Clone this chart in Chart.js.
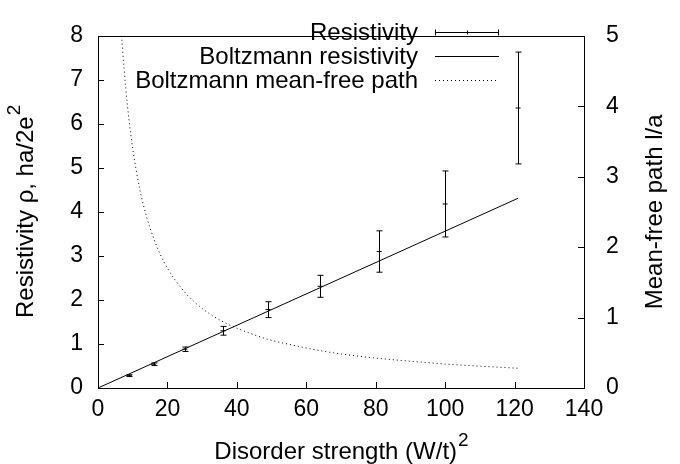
<!DOCTYPE html>
<html>
<head>
<meta charset="utf-8">
<script src="https://cdn.jsdelivr.net/npm/chart.js@4.4.1/dist/chart.umd.min.js"></script>
<style>
  html, body { margin: 0; padding: 0; background: #fff; }
  canvas { display: block; }
</style>
</head>
<body>
<canvas id="chart" width="680" height="464"></canvas>
<script>
// disorder strength (W/t)^2 of the simulated points
const disorder = [9, 16, 25, 36, 49, 64, 81, 100, 121];
const resistivity = [0.28, 0.54, 0.88, 1.30, 1.78, 2.31, 3.10, 4.18, 6.36];
const resistivityErr = [0.02, 0.03, 0.05, 0.10, 0.18, 0.25, 0.47, 0.75, 1.27];

// Boltzmann resistivity (straight line)
const boltzX = [0, 121];
const boltzRho = [0, 4.31];

// Boltzmann mean-free path (right axis)
const mfpX = [6.5, 7, 8, 9, 10, 12, 14, 16, 18, 20, 25, 30, 36, 40, 49, 56, 64, 72, 81, 90, 100, 110, 121];
const mfpL = [5.23, 4.86, 4.25, 3.78, 3.40, 2.83, 2.43, 2.13, 1.89, 1.70, 1.36, 1.13, 0.94, 0.85, 0.69, 0.61, 0.53, 0.47, 0.42, 0.38, 0.34, 0.31, 0.28];

const legendLabels = ["Resistivity", "Boltzmann resistivity", "Boltzmann mean-free path"];

const FONT = "'Liberation Sans', Arial, sans-serif";
const FS = 24;   // legend / titles
const TFS = 23;  // tick labels
const DOTS = [1, 3];

function pts(xs, ys) {
  return xs.map((x, i) => ({ x: x, y: ys[i] }));
}

// text with an optional superscript, centred on (0,0) of current transform
function drawTitle(ctx, text, sup) {
  ctx.font = FS + "px " + FONT;
  const w1 = ctx.measureText(text).width;
  ctx.font = Math.round(FS * 0.8) + "px " + FONT;
  const w2 = sup ? ctx.measureText(sup).width : 0;
  const start = -(w1 + w2) / 2;
  ctx.textAlign = "left";
  ctx.textBaseline = "middle";
  ctx.font = FS + "px " + FONT;
  ctx.fillText(text, start, 0);
  if (sup) {
    ctx.font = Math.round(FS * 0.8) + "px " + FONT;
    ctx.fillText(sup, start + w1 + 1, -11);
  }
}

// error bars, frame, inward ticks, legend, axis titles
const gnuplotLook = {
  id: "gnuplotLook",
  afterDatasetsDraw(chart) {
    const ctx = chart.ctx;
    const xs = chart.scales.x, ys = chart.scales.y, ys2 = chart.scales.y2;
    const a = chart.chartArea;
    ctx.save();
    ctx.strokeStyle = "#000";
    ctx.fillStyle = "#000";
    ctx.lineWidth = 1;

    // error bars
    disorder.forEach((d, i) => {
      const px = Math.round(xs.getPixelForValue(d)) + 0.5;
      const top = ys.getPixelForValue(resistivity[i] + resistivityErr[i]);
      const bot = ys.getPixelForValue(resistivity[i] - resistivityErr[i]);
      ctx.beginPath();
      ctx.moveTo(px, top); ctx.lineTo(px, bot);
      ctx.moveTo(px - 3, top); ctx.lineTo(px + 3, top);
      ctx.moveTo(px - 3, bot); ctx.lineTo(px + 3, bot);
      ctx.stroke();
    });

    // frame
    ctx.strokeRect(Math.round(a.left) + 0.5, Math.round(a.top) + 0.5,
      Math.round(a.right - a.left), Math.round(a.bottom - a.top));

    // inward ticks
    ctx.beginPath();
    xs.ticks.forEach(t => {
      const p = Math.round(xs.getPixelForValue(t.value)) + 0.5;
      ctx.moveTo(p, a.bottom); ctx.lineTo(p, a.bottom - 6);
    });
    ys.ticks.forEach(t => {
      const p = Math.round(ys.getPixelForValue(t.value)) + 0.5;
      ctx.moveTo(a.left, p); ctx.lineTo(a.left + 6, p);
    });
    ys2.ticks.forEach(t => {
      const p = Math.round(ys2.getPixelForValue(t.value)) + 0.5;
      ctx.moveTo(a.right, p); ctx.lineTo(a.right - 6, p);
    });
    ctx.stroke();

    // legend
    ctx.font = FS + "px " + FONT;
    ctx.textAlign = "right";
    ctx.textBaseline = "middle";
    const textX = 418, x0 = 435, x1 = 499;
    legendLabels.forEach((lab, i) => {
      const y = 32 + i * 24;
      ctx.fillText(lab, textX, y + 1);
      const py = Math.round(y) + 0.5;
      ctx.beginPath();
      if (i === 2) ctx.setLineDash(DOTS); else ctx.setLineDash([]);
      ctx.moveTo(x0, py); ctx.lineTo(x1, py);
      if (i === 0) {
        ctx.moveTo(x0 + 0.5, py - 3); ctx.lineTo(x0 + 0.5, py + 3);
        ctx.moveTo(x1 - 0.5, py - 3); ctx.lineTo(x1 - 0.5, py + 3);
        ctx.moveTo(467.5, py - 2); ctx.lineTo(467.5, py + 2);
      }
      ctx.stroke();
    });
    ctx.setLineDash([]);

    // axis titles
    const midY = (a.top + a.bottom) / 2;
    ctx.save();
    ctx.translate((a.left + a.right) / 2, 452);
    drawTitle(ctx, "Disorder strength (W/t)", "2");
    ctx.restore();

    ctx.save();
    ctx.translate(26, midY);
    ctx.rotate(-Math.PI / 2);
    drawTitle(ctx, "Resistivity ρ, ha/2e", "2");
    ctx.restore();

    ctx.save();
    ctx.translate(655, midY);
    ctx.rotate(-Math.PI / 2);
    drawTitle(ctx, "Mean-free path l/a", "");
    ctx.restore();

    ctx.restore();
  }
};

new Chart(document.getElementById("chart"), {
  type: "scatter",
  data: {
    datasets: [
      {
        label: legendLabels[0],
        data: pts(disorder, resistivity),
        yAxisID: "y",
        pointStyle: "line",
        pointRadius: 2.5,
        borderColor: "#000",
        borderWidth: 1,
        showLine: false,
      },
      {
        label: legendLabels[1],
        data: pts(boltzX, boltzRho),
        yAxisID: "y",
        showLine: true,
        pointRadius: 0,
        borderColor: "#000",
        borderWidth: 1,
      },
      {
        label: legendLabels[2],
        data: pts(mfpX, mfpL),
        yAxisID: "y2",
        showLine: true,
        pointRadius: 0,
        borderColor: "#000",
        borderWidth: 1,
        borderDash: DOTS,
        cubicInterpolationMode: "monotone",
      },
    ],
  },
  options: {
    responsive: false,
    animation: false,
    layout: { padding: { top: 17, left: 0, right: 0, bottom: 0 } },
    plugins: {
      legend: { display: false },
      tooltip: { enabled: false },
    },
    scales: {
      x: {
        type: "linear",
        position: "bottom",
        min: 0,
        max: 140,
        ticks: { stepSize: 20, color: "#000", font: { family: FONT, size: TFS }, padding: 8 },
        grid: { display: false, drawTicks: false },
        border: { display: false },
        afterFit: s => { s.height = 76; },
      },
      y: {
        type: "linear",
        position: "left",
        min: 0,
        max: 8,
        ticks: { stepSize: 1, color: "#000", font: { family: FONT, size: TFS }, padding: 15 },
        grid: { display: false, drawTicks: false },
        border: { display: false },
        afterFit: s => { s.width = 98; },
      },
      y2: {
        type: "linear",
        position: "right",
        min: 0,
        max: 5,
        ticks: { stepSize: 1, color: "#000", font: { family: FONT, size: TFS }, padding: 22 },
        grid: { display: false, drawTicks: false },
        border: { display: false },
        afterFit: s => { s.width = 96; },
      },
    },
  },
  plugins: [gnuplotLook],
});
</script>
</body>
</html>
